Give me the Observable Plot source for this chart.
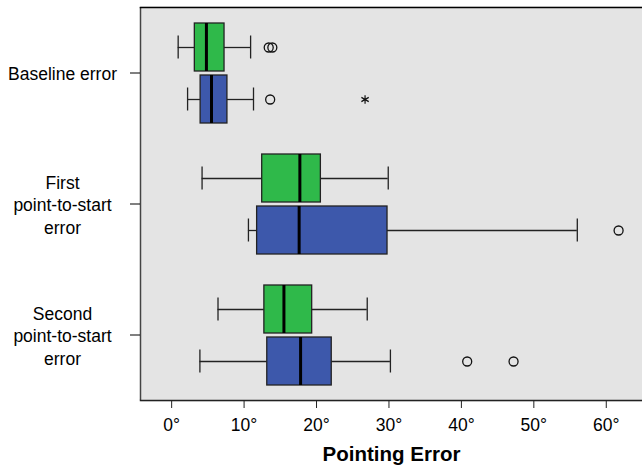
<!DOCTYPE html>
<html>
<head>
<meta charset="utf-8">
<script src="https://cdn.jsdelivr.net/npm/d3@7"></script>
<script src="https://cdn.jsdelivr.net/npm/@observablehq/plot@0.6"></script>
<style>
  body { margin: 0; background: #fff; }
  #chart svg { font-family: Arial, "Liberation Sans", sans-serif; }
</style>
</head>
<body>
<div id="chart"></div>
<script>
// Categories and groups
const categories = ["Baseline error", "First point-to-start error", "Second point-to-start error"];
const categoryLabels = ["Baseline error", "First\npoint-to-start\nerror", "Second\npoint-to-start\nerror"];
const groups = ["A", "B"];
const groupColors = ["#2fb94a", "#3d58ab"];

// Box statistics per category (green = A, blue = B)
const whiskerLowA  = [0.9, 4.2, 6.4];
const q1A          = [3.2, 12.5, 12.8];
const medianA      = [4.8, 17.7, 15.5];
const q3A          = [7.3, 20.6, 19.4];
const whiskerHighA = [10.9, 29.9, 27.0];

const whiskerLowB  = [2.2, 10.6, 3.9];
const q1B          = [4.0, 11.8, 13.2];
const medianB      = [5.5, 17.6, 17.8];
const q3B          = [7.7, 29.8, 22.1];
const whiskerHighB = [11.3, 56.0, 30.2];

// Outliers: [category index, group, value]
const outlierCategory = [0, 0, 0, 1, 2, 2];
const outlierGroup    = ["A", "A", "B", "B", "B", "B"];
const outlierValue    = [13.4, 13.9, 13.6, 61.7, 40.8, 47.2];

// Extreme values (star)
const extremeCategory = [0];
const extremeGroup    = ["B"];
const extremeValue    = [26.7];

const xTicks = [0, 10, 20, 30, 40, 50, 60];
const xDomain = [-4.3, 65];

// Build table
const boxes = [];
categories.forEach((c, i) => {
  boxes.push({cat: c, group: "A", lo: whiskerLowA[i], q1: q1A[i], med: medianA[i], q3: q3A[i], hi: whiskerHighA[i]});
  boxes.push({cat: c, group: "B", lo: whiskerLowB[i], q1: q1B[i], med: medianB[i], q3: q3B[i], hi: whiskerHighB[i]});
});
const outliers = outlierValue.map((v, i) => ({cat: categories[outlierCategory[i]], group: outlierGroup[i], v}));
const extremes = extremeValue.map((v, i) => ({cat: categories[extremeCategory[i]], group: extremeGroup[i], v}));
const labelOf = new Map(categories.map((c, i) => [c, categoryLabels[i]]));

const chart = Plot.plot({
  width: 642,
  height: 470,
  marginLeft: 140,
  marginRight: 0,
  marginTop: 7,
  marginBottom: 70,
  style: {fontSize: "17.5px", fontFamily: "Arial, 'Liberation Sans', sans-serif", color: "#000"},
  x: {domain: xDomain},
  y: {domain: groups, paddingInner: 0, paddingOuter: 0.236, axis: null},
  fy: {domain: categories, padding: 0, axis: null},
  color: {domain: groups, range: groupColors},
  marks: [
    Plot.frame({fill: "#e4e4e4", stroke: null, insetTop: -1, insetBottom: -1}),
    // whiskers
    Plot.ruleY(boxes, {y: "group", fy: "cat", x1: "lo", x2: "q1", stroke: "#222", strokeWidth: 1.3}),
    Plot.ruleY(boxes, {y: "group", fy: "cat", x1: "q3", x2: "hi", stroke: "#222", strokeWidth: 1.3}),
    Plot.tickX(boxes, {y: "group", fy: "cat", x: "lo", stroke: "#222", strokeWidth: 1.3, insetTop: 14.5, insetBottom: 14.5}),
    Plot.tickX(boxes, {y: "group", fy: "cat", x: "hi", stroke: "#222", strokeWidth: 1.3, insetTop: 14.5, insetBottom: 14.5}),
    // boxes
    Plot.barX(boxes, {y: "group", fy: "cat", x1: "q1", x2: "q3", fill: "group", stroke: "#222", strokeWidth: 1.3, insetTop: 2, insetBottom: 2}),
    // medians
    Plot.tickX(boxes, {y: "group", fy: "cat", x: "med", stroke: "#000", strokeWidth: 3, insetTop: 2, insetBottom: 2}),
    // outliers
    Plot.dot(outliers, {y: "group", fy: "cat", x: "v", r: 4.5, stroke: "#111", strokeWidth: 1.3, fill: "none"}),
    Plot.dot(extremes, {y: "group", fy: "cat", x: "v", r: 4, symbol: "asterisk", stroke: "#111", strokeWidth: 1.2}),
    // borders
    Plot.ruleX([xDomain[0]], {stroke: "#444", strokeWidth: 1.5}),
    Plot.frame({anchor: "top", facetAnchor: "top", stroke: "#000", strokeWidth: 1.5}),
    Plot.frame({anchor: "bottom", facetAnchor: "bottom", stroke: "#222", strokeWidth: 1.5}),
    // axes
    Plot.axisFy({
      anchor: "left",
      tickSize: 10,
      tickPadding: 68,
      textAnchor: "middle",
      lineHeight: 1.3,
      fontSize: 17.5,
      tickFormat: (d) => labelOf.get(d),
      label: null,
      stroke: "#000"
    }),
    Plot.axisX({
      ticks: xTicks,
      tickFormat: (d) => d + "°",
      tickSize: 8,
      tickPadding: 10,
      fontSize: 17.5,
      label: null,
      stroke: "#222"
    }),
    Plot.axisX({
      ticks: [],
      label: "Pointing Error",
      labelAnchor: "center",
      labelArrow: "none",
      labelOffset: 60,
      fontSize: 20.5,
      fontWeight: "bold"
    })
  ]
});
document.getElementById("chart").appendChild(chart);
</script>
</body>
</html>
